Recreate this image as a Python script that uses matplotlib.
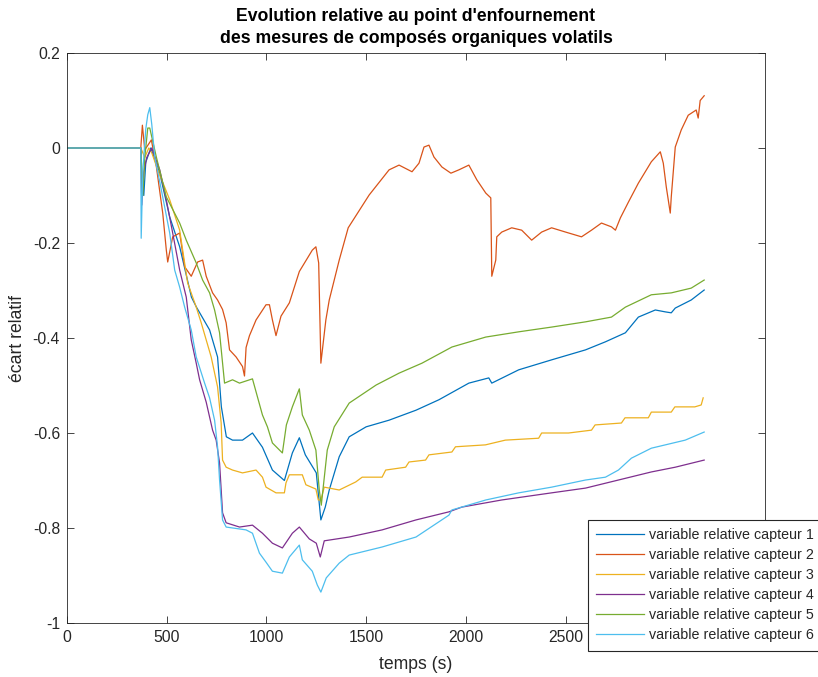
import matplotlib
matplotlib.use("Agg")
import matplotlib.pyplot as plt

# temps (s) et ecart relatif
t1 = [0, 370, 375, 385, 395, 420, 465, 515, 565, 624, 649, 715, 755, 774, 799, 830, 880, 930, 980,
      1030, 1090, 1130, 1165, 1195, 1250, 1273, 1295, 1315, 1365, 1415, 1500, 1615, 1750, 1865,
      2015, 2115, 2130, 2265, 2430, 2600, 2700, 2800, 2865, 2950, 3000, 3030, 3050, 3130, 3195]
y1 = [0, 0, -0.05, -0.1, -0.03, 0.0, -0.053, -0.145, -0.208, -0.314, -0.335, -0.383, -0.44, -0.545,
      -0.608, -0.615, -0.615, -0.60, -0.63, -0.678, -0.70, -0.642, -0.61, -0.646, -0.684, -0.783,
      -0.756, -0.72, -0.65, -0.608, -0.587, -0.573, -0.552, -0.53, -0.495, -0.484, -0.495, -0.467,
      -0.446, -0.425, -0.408, -0.389, -0.356, -0.341, -0.345, -0.347, -0.337, -0.32, -0.299]

t2 = [0, 370, 378, 390, 423, 448, 480, 498, 505, 530, 565, 590, 623, 655, 680, 698, 730, 755, 780,
      798, 815, 848, 880, 890, 898, 915, 948, 998, 1015, 1030, 1048, 1073, 1115, 1165, 1230, 1248,
      1262, 1273, 1298, 1315, 1365, 1410, 1515, 1615, 1665, 1730, 1765, 1790, 1815, 1840, 1880,
      1925, 1965, 2015, 2055, 2100, 2125, 2130, 2150, 2155, 2180, 2230, 2280, 2330, 2380, 2430,
      2500, 2580, 2630, 2680, 2730, 2750, 2775, 2815, 2865, 2930, 2975, 2990, 3005, 3025, 3030,
      3050, 3080, 3115, 3155, 3165, 3175, 3195]
y2 = [0, 0, 0.048, -0.004, 0.017, -0.039, -0.137, -0.215, -0.24, -0.187, -0.179, -0.25, -0.27, -0.24,
      -0.236, -0.27, -0.305, -0.32, -0.34, -0.368, -0.425, -0.44, -0.46, -0.48, -0.42, -0.395, -0.362,
      -0.33, -0.33, -0.362, -0.395, -0.354, -0.326, -0.26, -0.215, -0.208, -0.242, -0.453, -0.362,
      -0.32, -0.236, -0.168, -0.099, -0.046, -0.036, -0.05, -0.032, 0.002, 0.006, -0.019, -0.04,
      -0.053, -0.046, -0.036, -0.067, -0.095, -0.105, -0.27, -0.236, -0.187, -0.177, -0.168, -0.173,
      -0.194, -0.177, -0.168, -0.177, -0.187, -0.173, -0.158, -0.166, -0.173, -0.147, -0.114, -0.074,
      -0.029, -0.008, -0.032, -0.082, -0.137, -0.103, 0.002, 0.038, 0.069, 0.08, 0.063, 0.10, 0.11]

t3 = [0, 370, 390, 410, 425, 455, 515, 565, 605, 648, 673, 698, 723, 755, 773, 780, 798, 830, 880,
      948, 980, 998, 1048, 1090, 1098, 1115, 1180, 1198, 1248, 1260, 1273, 1290, 1365, 1448, 1480,
      1580, 1598, 1698, 1715, 1798, 1815, 1930, 1948, 2098, 2198, 2365, 2380, 2515, 2630, 2648,
      2780, 2798, 2915, 2930, 3030, 3048, 3148, 3180, 3190]
y3 = [0, 0, -0.02, 0.0, -0.01, -0.046, -0.109, -0.173, -0.284, -0.335, -0.368, -0.404, -0.44, -0.503,
      -0.579, -0.657, -0.672, -0.678, -0.684, -0.678, -0.693, -0.714, -0.726, -0.726, -0.705, -0.688,
      -0.688, -0.709, -0.718, -0.741, -0.741, -0.714, -0.72, -0.703, -0.693, -0.693, -0.678, -0.672,
      -0.661, -0.657, -0.646, -0.64, -0.629, -0.625, -0.615, -0.611, -0.60, -0.60, -0.594, -0.583,
      -0.579, -0.568, -0.568, -0.556, -0.556, -0.545, -0.545, -0.541, -0.526]

t4 = [0, 370, 375, 385, 400, 425, 465, 498, 530, 565, 598, 623, 648, 665, 698, 730, 748, 765, 780,
      798, 865, 930, 980, 1030, 1080, 1130, 1165, 1215, 1250, 1270, 1290, 1415, 1580, 1750, 1915,
      1980, 2180, 2430, 2600, 2765, 2930, 3050, 3195]
y4 = [0, 0, -0.12, -0.05, -0.02, 0.0, -0.046, -0.109, -0.179, -0.257, -0.314, -0.404, -0.453, -0.488,
      -0.535, -0.594, -0.615, -0.663, -0.768, -0.789, -0.798, -0.794, -0.811, -0.832, -0.842, -0.811,
      -0.798, -0.823, -0.832, -0.861, -0.827, -0.819, -0.804, -0.783, -0.766, -0.756, -0.741, -0.726,
      -0.716, -0.699, -0.682, -0.672, -0.657]

t5 = [0, 370, 380, 390, 405, 415, 448, 498, 565, 598, 648, 680, 715, 740, 765, 790, 830, 865, 930,
      955, 980, 1005, 1030, 1080, 1100, 1130, 1165, 1180, 1215, 1248, 1265, 1275, 1305, 1340, 1415,
      1550, 1665, 1780, 1930, 2100, 2265, 2430, 2600, 2730, 2800, 2930, 3030, 3130, 3195]
y5 = [0, 0, -0.1, -0.02, 0.042, 0.042, -0.019, -0.103, -0.158, -0.194, -0.242, -0.278, -0.305, -0.341,
      -0.389, -0.495, -0.488, -0.495, -0.486, -0.524, -0.562, -0.587, -0.621, -0.642, -0.583, -0.545,
      -0.507, -0.562, -0.594, -0.636, -0.72, -0.752, -0.636, -0.587, -0.537, -0.499, -0.474, -0.453,
      -0.419, -0.398, -0.387, -0.377, -0.366, -0.356, -0.335, -0.309, -0.305, -0.295, -0.278]

t6 = [0, 370, 372, 380, 395, 405, 415, 425, 440, 473, 515, 540, 565, 590, 623, 648, 690, 715, 740,
      755, 765, 780, 798, 898, 930, 965, 998, 1030, 1080, 1115, 1165, 1180, 1230, 1255, 1273, 1300,
      1365, 1415, 1580, 1750, 1915, 1930, 2100, 2265, 2430, 2600, 2700, 2765, 2830, 2930, 3100, 3195]
y6 = [0, 0, -0.19, -0.05, 0.04, 0.07, 0.085, 0.05, -0.019, -0.088, -0.179, -0.257, -0.293, -0.335,
      -0.383, -0.44, -0.495, -0.526, -0.573, -0.629, -0.699, -0.783, -0.798, -0.804, -0.811, -0.853,
      -0.872, -0.891, -0.895, -0.861, -0.836, -0.867, -0.891, -0.92, -0.935, -0.905, -0.874, -0.857,
      -0.84, -0.819, -0.773, -0.762, -0.741, -0.726, -0.714, -0.699, -0.693, -0.678, -0.653, -0.632,
      -0.615, -0.598]

series = [(t1, y1), (t2, y2), (t3, y3), (t4, y4), (t5, y5), (t6, y6)]
labels = ["variable relative capteur %d" % i for i in range(1, 7)]
colors = ["#0072BD", "#D95319", "#EDB120", "#7E2F8E", "#77AC30", "#4DBEEE"]

plt.rcParams["font.family"] = ["Liberation Sans", "DejaVu Sans"]
axcol = "#262626"

fig = plt.figure(figsize=(8.18, 6.77), dpi=100)
ax = fig.add_axes([67 / 818, 54 / 677, 698 / 818, 570 / 677])

for (t, y), lab, c in zip(series, labels, colors):
    ax.plot(t, y, color=c, lw=0.9, label=lab)

ax.set_xlim(0, 3500)
ax.set_ylim(-1, 0.2)
ax.set_xticks([0, 500, 1000, 1500, 2000, 2500, 3000])
ax.set_yticks([-1, -0.8, -0.6, -0.4, -0.2, 0, 0.2])
ax.set_yticklabels(["-1", "-0.8", "-0.6", "-0.4", "-0.2", "0", "0.2"])
ax.tick_params(direction="in", top=True, right=True, length=5, width=0.6,
               colors=axcol, labelsize=11.3, pad=5)
for s in ax.spines.values():
    s.set_color(axcol)
    s.set_linewidth(0.6)

ax.set_xlabel("temps (s)", fontsize=12.7, color=axcol, labelpad=8)
ax.set_ylabel("écart relatif", fontsize=12.7, color=axcol, labelpad=5)
ax.set_title("Evolution relative au point d'enfournement\ndes mesures de composés organiques volatils",
             fontsize=12.7, fontweight="bold", color="black", pad=7, linespacing=1.4)

# la legende deborde a droite de la figure, comme sur l'original
leg = ax.legend(loc="upper left", bbox_to_anchor=(588 / 818, 1 - 520 / 677),
                bbox_transform=fig.transFigure, borderaxespad=0, fontsize=10.3,
                fancybox=False, framealpha=1, handlelength=3.3, handletextpad=0.4,
                labelspacing=0.42, borderpad=0.58)
leg.get_frame().set_edgecolor(axcol)
leg.get_frame().set_linewidth(0.8)
for txt in leg.get_texts():
    txt.set_color(axcol)

fig.savefig("out.png", dpi=100)
